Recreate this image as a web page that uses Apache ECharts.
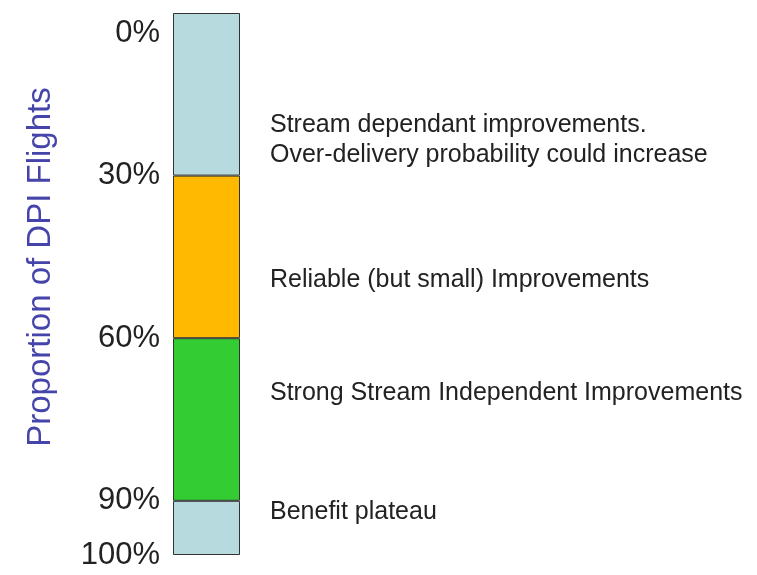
<!DOCTYPE html>
<html>
<head>
<meta charset="utf-8">
<title>Proportion of DPI Flights</title>
<script src="https://cdn.jsdelivr.net/npm/echarts@6/dist/echarts.min.js"></script>
<style>
html, body { margin: 0; padding: 0; background: #fff; }
#chart { width: 757px; height: 575px; }
</style>
</head>
<body>
<div id="chart"></div>
<script>
// bands of the bar, top to bottom (percent of flights)
const bandNames = ['Stream dependant', 'Reliable', 'Strong independent', 'Plateau'];
const bandSizes = [30, 30, 30, 10];
const bandNotes = [
  'Stream dependant improvements.\nOver-delivery probability could increase',
  'Reliable (but small) Improvements',
  'Strong Stream Independent Improvements',
  'Benefit plateau'
];
// axis ticks
const tickValues = [0, 30, 60, 90, 100];
const tickLabels = ['0%', '30%', '60%', '90%', '100%'];

// look
const bandColors = ['#b7dade', '#ffb900', '#33cc33', '#b7dade'];
const noteShift = [46, 23, -26, -16]; // nudge notes to where they sit in the original
const font = '"Liberation Sans", Arial, sans-serif';

const myChart = echarts.init(document.getElementById('chart'));

const series = bandSizes.map((size, i) => ({
  name: bandNames[i],
  type: 'bar',
  stack: 'all',
  barWidth: '100%',
  data: [size],
  itemStyle: {
    color: bandColors[i],
    borderColor: '#333',
    borderWidth: 1
  },
  label: {
    show: true,
    position: 'right',
    distance: 30,
    offset: [0, noteShift[i]],
    formatter: bandNotes[i],
    color: '#222',
    fontSize: 25,
    lineHeight: 30,
    fontFamily: font
  }
}));

const option = {
  animation: false,
  grid: {
    left: 173,
    top: 13,
    width: 67,
    bottom: 20
  },
  xAxis: {
    type: 'category',
    data: ['DPI'],
    show: false
  },
  yAxis: {
    type: 'value',
    inverse: true,
    min: 0,
    max: 100,
    name: 'Proportion of DPI Flights',
    nameLocation: 'middle',
    nameRotate: 90,
    nameGap: 116,
    nameTextStyle: {
      color: '#4444aa',
      fontSize: 33,
      fontFamily: font,
      padding: [0, 0, 0, 34]
    },
    axisLine: { show: false },
    axisTick: { show: false },
    splitLine: { show: false },
    axisLabel: {
      customValues: tickValues,
      formatter: function (v) {
        const txt = tickLabels[tickValues.indexOf(v)];
        return v === 0 ? '{first|' + txt + '}' : txt;
      },
      color: '#222',
      fontSize: 31,
      fontFamily: font,
      margin: 13,
      rich: {
        first: {
          color: '#222',
          fontSize: 31,
          fontFamily: font,
          padding: [40, 0, 0, 0]
        }
      }
    }
  },
  series: series
};

myChart.setOption(option);
</script>
</body>
</html>
